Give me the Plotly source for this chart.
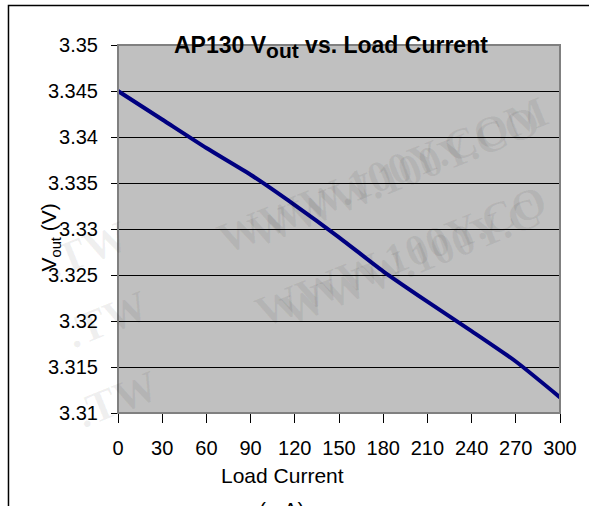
import plotly.graph_objects as go

load_current = [0, 30, 60, 90, 120, 150, 180, 210, 240, 270, 300]
vout = [3.3450, 3.3419, 3.3388, 3.3359, 3.3326, 3.3291, 3.3254, 3.3221, 3.3189, 3.3156, 3.3117]
x_ticks = [0, 30, 60, 90, 120, 150, 180, 210, 240, 270, 300]
y_ticks = [3.31, 3.315, 3.32, 3.325, 3.33, 3.335, 3.34, 3.345, 3.35]
y_ticklabels = ["3.31", "3.315", "3.32", "3.325", "3.33", "3.335", "3.34", "3.345", "3.35"]
watermark_parts = ["WWW.100Y.COM", "WWW.100Y.CO", "WWW.100Y.CO", "WWW.100Y.C", ".TW", ".TW", ".TW"]

fig = go.Figure()
fig.add_trace(go.Scatter(
    x=load_current, y=vout, mode="lines",
    line=dict(color="#000080", width=4, shape="spline", smoothing=0.6),
    showlegend=False, hoverinfo="skip"))

W, H = 589, 506
L, R, T, B = 118, 21, 45, 93
pw, ph = W - L - R, H - T - B

def px(x):
    return (x - L) / pw

def py(y):
    return (H - B - y) / ph

wm_centers = [(387, 84), (399, 176), (406, 256), (416, 338), (35, 291), (55, 361), (65, 441)]
annotations = []
for txt, (wx, wy) in zip(watermark_parts, wm_centers):
    annotations.append(dict(
        text="<b>" + txt + "</b>", x=px(wx), y=py(wy), xref="paper", yref="paper",
        showarrow=False, textangle=-22,
        font=dict(family="Liberation Serif", size=44, color="rgba(0,0,0,0.06)")))

annotations.append(dict(
    text="<b>AP130 V<sub><span style='font-size:21px'>out</span></sub> vs. Load Current</b>",
    x=px(335), y=py(30), xref="paper", yref="paper", showarrow=False,
    font=dict(family="Liberation Sans", size=23, color="black")))
annotations.append(dict(
    text="Load Current", x=px(285), y=py(475), xref="paper", yref="paper",
    showarrow=False, xanchor="center", yanchor="middle",
    font=dict(family="Liberation Sans", size=21, color="black")))
annotations.append(dict(
    text="(mA)", x=px(285), y=py(509), xref="paper", yref="paper",
    showarrow=False, xanchor="center", yanchor="middle",
    font=dict(family="Liberation Sans", size=21, color="black")))
annotations.append(dict(
    text="V<sub>out</sub> (V)", x=px(34), y=py(237), xref="paper", yref="paper",
    showarrow=False, textangle=-90,
    font=dict(family="Liberation Sans", size=21, color="black")))

shapes = [
    dict(type="rect", xref="paper", yref="paper", x0=px(6.5), y0=py(5.5), x1=px(640), y1=py(580),
         line=dict(color="black", width=1.5), layer="above"),
    dict(type="rect", xref="paper", yref="paper", x0=0, y0=0, x1=1, y1=1,
         line=dict(color="#808080", width=2), layer="above"),
]

fig.update_layout(
    width=W, height=H,
    margin=dict(l=L, r=R, t=T, b=B),
    paper_bgcolor="white", plot_bgcolor="#C0C0C0",
    font=dict(family="Liberation Sans", size=20, color="black"),
    annotations=annotations, shapes=shapes,
    xaxis=dict(range=[0, 300], tickvals=x_ticks, ticktext=[str(v) for v in x_ticks],
               showgrid=False, zeroline=False, showline=True, linecolor="black", linewidth=1,
               ticks="outside", ticklen=9, tickcolor="black", tickfont=dict(size=20), ticklabelstandoff=8),
    yaxis=dict(range=[3.31, 3.35], tickvals=y_ticks, ticktext=y_ticklabels,
               showgrid=True, gridcolor="black", gridwidth=1, zeroline=False,
               showline=True, linecolor="black", linewidth=1,
               ticks="outside", ticklen=6, tickcolor="black", tickfont=dict(size=20), ticklabelstandoff=9),
)

fig.write_html("out.html", config={"displayModeBar": False},
               post_script="document.body.style.margin='0';document.body.style.overflow='hidden';")
